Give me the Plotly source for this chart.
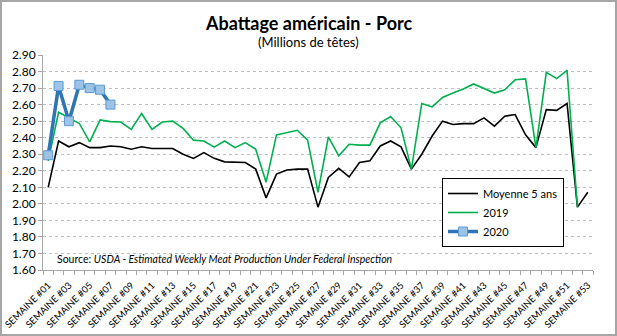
import plotly.graph_objects as go

weeks = list(range(1, 54))
tick_weeks = list(range(1, 54, 2))
tick_labels = [f"SEMAINE #{w:02d}" for w in tick_weeks]

moyenne_5_ans = [2.10, 2.38, 2.345, 2.37, 2.34, 2.34, 2.35, 2.345, 2.33, 2.345,
                 2.335, 2.335, 2.335, 2.30, 2.275, 2.31, 2.275, 2.254, 2.25, 2.25,
                 2.21, 2.036, 2.18, 2.205, 2.21, 2.21, 1.98, 2.16, 2.215, 2.163,
                 2.25, 2.26, 2.35, 2.38, 2.345, 2.21, 2.30, 2.41, 2.50, 2.48,
                 2.485, 2.485, 2.52, 2.47, 2.53, 2.54, 2.417, 2.34, 2.57, 2.565,
                 2.607, 1.98, 2.07]

serie_2019 = [2.26, 2.554, 2.52, 2.486, 2.375, 2.507, 2.497, 2.495, 2.45, 2.546,
              2.45, 2.495, 2.50, 2.456, 2.385, 2.38, 2.343, 2.38, 2.34, 2.37,
              2.33, 2.131, 2.417, 2.43, 2.445, 2.385, 2.07, 2.405, 2.29, 2.36,
              2.355, 2.355, 2.49, 2.528, 2.46, 2.21, 2.607, 2.586, 2.643, 2.67,
              2.695, 2.725, 2.695, 2.67, 2.69, 2.75, 2.755, 2.34, 2.795, 2.757,
              2.807, 1.98, None]

serie_2020 = [2.294, 2.713, 2.50, 2.72, 2.70, 2.69, 2.60]

FONT = "Lato"
L, R, T, B = 43, 24, 55, 66
W, H = 617, 336
pw, ph = W - L - R, H - T - B

fig = go.Figure()
fig.add_trace(go.Scatter(x=weeks, y=moyenne_5_ans, mode="lines", name="Moyenne 5 ans",
                         line=dict(color="#000000", width=1.6)))
fig.add_trace(go.Scatter(x=weeks, y=serie_2019, mode="lines", name="2019",
                         line=dict(color="#00B050", width=1.6)))
fig.add_trace(go.Scatter(x=weeks[:len(serie_2020)], y=serie_2020, mode="lines+markers", name="2020",
                         line=dict(color="#2E75B6", width=3.5),
                         marker=dict(symbol="square", size=9, color="#9DC3E6",
                                     line=dict(color="#5B9BD5", width=1))))

fig.update_layout(
    width=W, height=H,
    margin=dict(l=L, r=R, t=T, b=B, autoexpand=False),
    paper_bgcolor="white", plot_bgcolor="white",
    font=dict(family=FONT, color="#000000"),
    showlegend=True,
    legend=dict(x=(442 - L) / pw, y=(H - B - 178) / ph, xanchor="left", yanchor="top",
                bgcolor="white", bordercolor="#000000", borderwidth=1,
                font=dict(family=FONT, size=11, color="#000000")),
    xaxis=dict(range=[0.5, 53.5], tickmode="array", tickvals=tick_weeks, ticktext=tick_labels,
               tickangle=-45, tickfont=dict(family=FONT, size=9.5, color="#000000"),
               automargin=False, ticklabelstandoff=5,
               showgrid=False, zeroline=False, showline=True, linecolor="#A6A6A6", linewidth=1,
               ticks="", minor=dict(ticks="outside", tick0=0.5, dtick=1, ticklen=4,
                                    tickcolor="#A6A6A6", showgrid=False)),
    yaxis=dict(range=[1.6, 2.9], tickmode="linear", tick0=1.6, dtick=0.1, tickformat=".2f",
               tickfont=dict(family=FONT, size=12, color="#000000"), automargin=False,
               showgrid=True, gridcolor="#BFBFBF", griddash="dot", gridwidth=1,
               zeroline=False, showline=True, linecolor="#A6A6A6", linewidth=1,
               ticks="outside", ticklen=4, tickcolor="#A6A6A6"),
)

fig.add_annotation(text="<b>Abattage américain - Porc</b>", xref="paper", yref="paper",
                   x=(308 - L) / pw, y=1 + (T - 23) / ph, xanchor="center", yanchor="middle",
                   showarrow=False, font=dict(family=FONT, size=18, color="#000000"))
fig.add_annotation(text="(Millions de têtes)", xref="paper", yref="paper",
                   x=(308 - L) / pw, y=1 + (T - 42) / ph, xanchor="center", yanchor="middle",
                   showarrow=False, font=dict(family=FONT, size=13, color="#000000"))
fig.add_annotation(text="Source: <i>USDA - Estimated Weekly Meat Production Under Federal Inspection</i>",
                   xref="paper", yref="paper", x=(55 - L) / pw, y=(H - B - 259) / ph,
                   xanchor="left", yanchor="middle", showarrow=False,
                   font=dict(family=FONT, size=10.5, color="#000000"))

fig.add_shape(type="rect", xref="paper", yref="paper",
              x0=(-L + 1) / pw, x1=1 + (R - 1) / pw, y0=(-B + 1) / ph, y1=1 + (T - 1) / ph,
              line=dict(color="#A6A6A6", width=2), fillcolor="rgba(0,0,0,0)", layer="below")

fig.write_html("out.html")
